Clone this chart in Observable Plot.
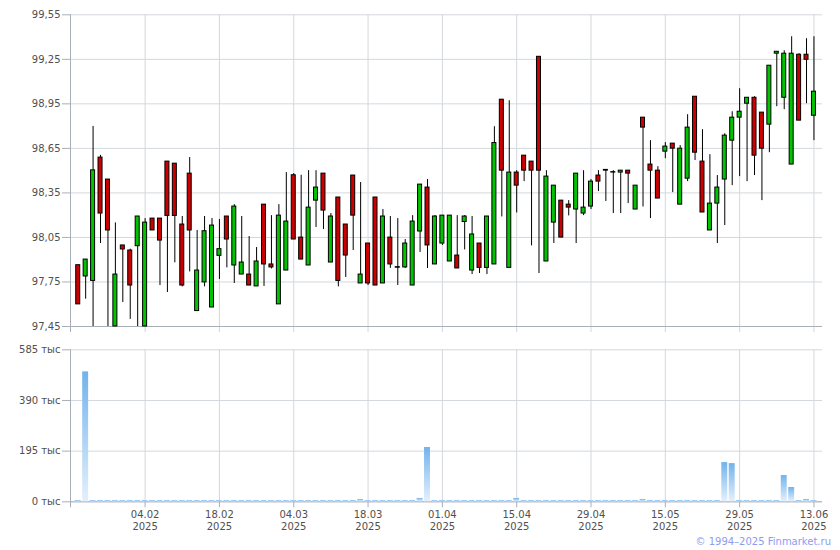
<!DOCTYPE html>
<html><head><meta charset="utf-8">
<script src="https://cdn.jsdelivr.net/npm/d3@7"></script>
<script src="https://cdn.jsdelivr.net/npm/@observablehq/plot@0.6"></script>
<style>
body{margin:0;background:#fff;}
#wrap{position:relative;width:840px;height:550px;font-family:"DejaVu Sans",Verdana,sans-serif;background:#fff;}
#price{position:absolute;left:0;top:0;}
#vol{position:absolute;left:0;top:340px;}
#copy{position:absolute;right:9px;top:536px;font-size:10px;line-height:12px;color:#8c9cf0;}
</style></head><body>
<div id="wrap"><div id="price"></div><div id="vol"></div><div id="copy">© 1994–2025 Finmarket.ru</div></div>
<script>
// Trading-day OHLC, 22.01.2025 – 13.06.2025 (index 0..99)
const openP = [97.863,97.787,97.757,98.588,98.440,97.450,97.996,97.962,97.991,97.450,
98.177,98.177,98.561,98.547,98.137,98.480,97.554,97.747,97.578,97.926,
98.191,97.861,97.800,97.800,97.720,98.271,97.868,97.599,97.827,98.469,
98.049,97.861,98.298,98.480,97.881,98.319,98.137,98.467,97.740,98.009,
98.319,97.740,98.049,97.846,97.848,97.726,98.090,98.386,97.868,98.009,
97.888,97.928,98.154,97.827,98.009,97.845,97.868,98.978,97.845,98.487,
98.601,98.561,99.267,97.888,98.150,98.298,98.271,98.238,98.211,98.258,
98.467,98.505,98.487,98.487,98.500,98.238,98.857,98.541,98.500,98.628,
98.682,98.271,98.446,98.998,98.561,98.097,98.278,98.440,98.702,98.857,
98.951,98.991,98.891,98.810,99.288,98.991,98.541,99.281,99.281,98.870];
const highP = [97.863,97.901,98.798,98.603,98.440,98.148,97.996,97.971,98.191,98.177,
98.177,98.177,98.561,98.547,98.191,98.588,98.097,98.191,98.177,98.171,
98.191,98.271,98.191,98.056,97.982,98.271,98.197,98.271,98.487,98.480,
98.469,98.500,98.500,98.480,98.211,98.319,98.137,98.467,98.420,98.009,
98.319,98.238,98.191,98.177,98.036,98.197,98.406,98.440,98.197,98.197,
98.197,98.197,98.197,98.191,98.009,98.191,98.796,98.978,98.971,98.500,
98.601,98.561,99.267,98.500,98.399,98.298,98.298,98.480,98.500,98.440,
98.500,98.505,98.500,98.500,98.500,98.399,98.857,98.702,98.527,98.689,
98.682,98.669,98.877,98.998,98.776,98.608,98.467,98.749,98.897,99.052,
98.991,98.998,98.891,99.207,99.301,99.308,99.402,99.288,99.389,99.402];
const lowP = [97.599,97.634,97.450,98.009,97.450,97.450,97.612,97.498,97.450,97.450,
98.097,97.726,97.679,97.879,97.717,97.818,97.554,97.717,97.578,97.767,
97.845,97.740,97.800,97.726,97.720,97.720,97.838,97.599,97.827,98.036,
97.901,97.861,98.117,98.103,97.881,97.717,97.780,97.962,97.740,97.726,
97.726,97.740,97.841,97.726,97.841,97.726,97.949,97.841,97.868,97.996,
97.888,97.841,97.966,97.800,97.807,97.800,97.868,98.188,97.845,98.215,
98.426,97.993,97.807,97.888,98.009,98.049,98.195,98.009,98.197,98.238,
98.359,98.292,98.211,98.211,98.278,98.238,98.255,98.177,98.312,98.581,
98.352,98.271,98.426,98.568,98.218,98.097,98.009,98.130,98.399,98.460,
98.426,98.467,98.298,98.621,98.931,98.911,98.541,98.837,98.951,98.702];
const closeP = [97.599,97.901,98.502,98.211,98.097,97.800,97.969,97.726,98.191,98.150,
98.097,98.029,98.195,98.195,97.726,98.097,97.827,98.092,98.130,97.971,
98.036,98.258,97.881,97.726,97.888,97.868,97.848,98.197,98.157,98.036,
97.901,98.251,98.386,98.231,98.191,97.757,97.928,98.197,97.800,97.740,
97.726,98.191,97.868,97.850,98.009,98.157,98.406,97.996,98.191,98.197,
98.197,97.841,98.191,98.070,97.845,98.191,98.686,98.500,98.487,98.399,
98.500,98.500,98.500,98.460,98.399,98.049,98.251,98.480,98.251,98.426,
98.426,98.500,98.490,98.500,98.480,98.399,98.790,98.500,98.312,98.662,
98.648,98.648,98.790,98.621,98.218,98.278,98.386,98.736,98.857,98.897,
98.991,98.601,98.648,99.207,99.301,99.288,99.288,98.837,99.247,99.032];
// Volume, thousands
const volumeK = [5,500,5,5,5,5,5,5,5,5,
5,5,5,5,5,5,5,5,5,5,
5,5,5,5,5,5,5,5,5,5,
5,5,5,5,5,5,5,5,9,5,
5,5,5,5,5,5,13,209,5,5,
5,5,5,5,5,5,5,5,5,13,
5,5,5,5,5,5,5,5,5,5,
5,5,5,5,5,5,9,5,5,5,
5,5,5,5,5,5,5,151,147,5,
5,5,5,5,5,101,55,5,9,5];
const tickIdx = [9,19,29,39,49,59,69,79,89,99];
const tickDates = ["04.02","18.02","04.03","18.03","01.04","15.04","29.04","15.05","29.05","13.06"];
const tickYear = "2025";
const priceTicks = [97.45,97.75,98.05,98.35,98.65,98.95,99.25,99.55];
const volTicks = [0,195,390,585];

const candles = openP.map((o,i)=>({i, o, h: highP[i], l: lowP[i], c: closeP[i]}));
const vols = volumeK.map((v,i)=>({i, v}));
const xDomain = [-1.04, 100.15];
const gridColor = "#d3d8dd";
const axisColor = "#a9afb8";
const common = {
  width: 840, marginLeft: 70, marginRight: 18,
  style: {fontFamily: '"DejaVu Sans", Verdana, sans-serif', fontSize: "10px", color: "#505050", background: "#fff"}
};

const price = Plot.plot({
  ...common, height: 340, marginTop: 14.3, marginBottom: 14,
  x: {type: "linear", domain: xDomain, axis: null},
  y: {domain: [97.45, 99.55], label: null},
  color: {type: "identity"},
  marks: [
    Plot.gridY(priceTicks, {stroke: gridColor, strokeOpacity: 1}),
    Plot.gridX(tickIdx, {stroke: gridColor, strokeOpacity: 1, insetBottom: -6}),
    Plot.ruleY([priceTicks[0]], {stroke: axisColor}),
    Plot.ruleX([xDomain[0]], {stroke: axisColor, insetBottom: -6}),
    Plot.axisY({ticks: priceTicks, tickSize: 8, tickPadding: 2, stroke: axisColor, strokeOpacity: 1, label: null,
      tickFormat: d => d.toFixed(2).replace(".", ",")}),
    Plot.ruleX(candles, {x: "i", y1: "l", y2: "h", stroke: "#000", strokeWidth: 1}),
    Plot.rect(candles, {x1: d => d.i - 0.27, x2: d => d.i + 0.27, y1: "o", y2: "c",
      fill: d => d.c >= d.o ? "#00c400" : "#cc0000", stroke: "#000", strokeWidth: 1})
  ]
});
document.getElementById("price").appendChild(price);

const vol = Plot.plot({
  ...common, height: 210, marginTop: 9.3, marginBottom: 48.7,
  x: {type: "linear", domain: xDomain, label: null},
  y: {domain: [0, 585], label: null},
  marks: [
    Plot.gridY(volTicks, {stroke: gridColor, strokeOpacity: 1}),
    Plot.gridX(tickIdx, {stroke: gridColor, strokeOpacity: 1}),
    Plot.ruleY([volTicks[0]], {stroke: axisColor}),
    Plot.ruleX([xDomain[0]], {stroke: axisColor, insetBottom: -6}),
    Plot.rect(vols, {x1: d => d.i - 0.4, x2: d => d.i + 0.4, y1: 0, y2: "v", fill: "url(#volGrad)"}),
    Plot.axisY({ticks: volTicks, tickSize: 8, tickPadding: 2, stroke: axisColor, strokeOpacity: 1, label: null,
      tickFormat: d => d + " тыс"}),
    Plot.axisX({ticks: tickIdx, tickSize: 6, tickPadding: 2, stroke: axisColor, strokeOpacity: 1, lineHeight: 1.17, label: null,
      tickFormat: d => tickDates[tickIdx.indexOf(d)] + "\n" + tickYear})
  ]
});
const defs = d3.select(vol).insert("defs", ":first-child");
const grad = defs.append("linearGradient").attr("id", "volGrad").attr("x1", 0).attr("y1", 0).attr("x2", 0).attr("y2", 1);
grad.append("stop").attr("offset", "0%").attr("stop-color", "#72b3ec");
grad.append("stop").attr("offset", "100%").attr("stop-color", "#e3f0fc");
document.getElementById("vol").appendChild(vol);
</script>
</body></html>
